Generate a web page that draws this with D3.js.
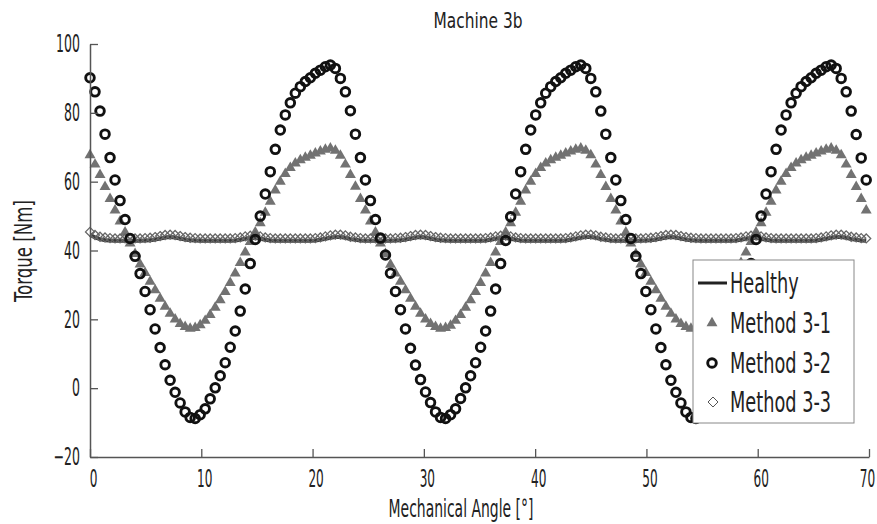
<!DOCTYPE html>
<html><head><meta charset="utf-8">
<script src="https://cdn.jsdelivr.net/npm/d3@7"></script>
<style>body{margin:0;background:#fff}svg text{font-family:'DejaVu Sans Condensed','DejaVu Sans',sans-serif;fill:#222}</style>
</head><body><svg id="c" width="877" height="524"></svg>
<script>
// ---- data ----
const angleStep = 0.45;               // sampling step in degrees (156 samples, 0 .. 69.75)
const xTicks = [0,10,20,30,40,50,60,70];
const yTicks = [-20,0,20,40,60,80,100];
const seriesNames = ["Healthy","Method 3-1","Method 3-2","Method 3-3"];

const healthy = [
44.6,43.8,43.3,43.0,42.9,42.8,42.8,42.8,42.8,42.8,42.8,42.9,43.0,43.2,43.5,43.8,43.9,43.8,43.5,43.2,
43.0,42.9,42.8,42.8,42.8,42.8,42.8,42.8,42.8,42.9,43.1,43.4,43.6,43.6,43.4,43.1,42.9,42.8,42.8,42.8,
42.8,42.8,42.8,42.8,42.8,42.9,43.1,43.4,43.7,43.9,43.9,43.7,43.3,43.1,42.9,42.8,42.8,42.8,42.8,42.8,
42.8,42.9,43.0,43.2,43.5,43.8,43.9,43.8,43.5,43.2,43.0,42.9,42.8,42.8,42.8,42.8,42.8,42.8,42.8,42.9,
43.1,43.4,43.6,43.6,43.4,43.1,42.9,42.8,42.8,42.8,42.8,42.8,42.8,42.8,42.8,42.9,43.1,43.4,43.7,43.9,
43.9,43.7,43.3,43.1,42.9,42.8,42.8,42.8,42.8,42.8,42.8,42.9,43.0,43.2,43.5,43.8,43.9,43.8,43.5,43.2,
43.0,42.9,42.8,42.8,42.8,42.8,42.8,42.8,42.8,42.9,43.1,43.4,43.6,43.6,43.4,43.1,42.9,42.8,42.8,42.8,
42.8,42.8,42.8,42.8,42.8,42.9,43.1,43.4,43.7,43.9,43.9,43.7,43.3,43.1,42.9,42.8];

const method31 = [
67.7,65.0,62.0,58.5,55.0,51.7,48.5,45.3,42.1,39.0,36.0,33.5,31.0,28.5,26.0,23.7,21.7,20.0,18.7,17.8,
17.3,17.5,18.3,19.6,21.3,23.4,25.6,28.0,30.6,33.4,36.4,39.5,42.5,45.3,48.0,51.0,54.2,57.5,60.0,62.3,
64.0,65.3,66.3,67.0,67.6,68.2,68.8,69.3,69.7,69.0,
67.6,65.0,62.0,58.6,55.0,51.7,48.5,45.3,42.1,39.0,35.9,33.4,31.0,28.5,26.0,23.7,21.7,20.0,18.7,17.8,
17.3,17.5,18.2,19.6,21.3,23.4,25.6,28.0,30.6,33.4,36.4,39.5,42.5,45.3,48.0,51.0,54.2,57.5,60.0,62.3,
64.0,65.3,66.3,67.0,67.6,68.2,68.8,69.3,69.7,69.0,
67.7,65.0,62.0,58.5,55.0,51.7,48.5,45.3,42.1,39.0,36.0,33.5,31.0,28.5,26.0,23.7,21.7,20.0,18.7,17.8,
17.3,17.5,18.3,19.6,21.3,23.4,25.6,28.0,30.6,33.4,36.4,39.5,42.5,45.3,48.0,51.0,54.2,57.5,60.0,62.3,
64.0,65.3,66.3,67.0,67.6,68.2,68.8,69.3,69.7,69.0,
67.7,65.0,62.0,58.5,55.0,51.7];

const method32 = [
90.2,86.1,80.5,73.8,67.0,60.5,54.5,49.0,43.5,38.3,33.3,28.1,22.8,17.2,11.8,6.8,2.3,-1.2,-4.3,-6.9,
-8.5,-8.8,-7.7,-6.0,-3.1,0.1,3.6,7.4,11.9,16.6,22.4,28.8,36.2,43.2,50.0,56.4,62.9,69.4,75.0,79.4,
82.9,85.7,87.6,89.1,90.2,91.5,92.4,93.4,93.9,92.9,
90.0,86.1,80.6,73.8,67.0,60.5,54.5,49.0,43.6,38.7,33.4,28.1,22.8,17.2,11.6,6.7,2.5,-1.1,-4.2,-6.9,
-8.5,-8.8,-7.7,-6.0,-3.0,0.1,3.6,7.4,11.9,16.6,22.4,28.8,36.2,42.9,49.8,56.4,62.9,69.4,75.0,79.4,
82.9,85.7,87.6,89.1,90.2,91.5,92.4,93.4,93.9,92.9,
90.0,86.1,80.5,73.8,67.0,60.5,54.5,49.0,43.5,38.3,33.3,28.1,22.8,17.2,11.8,6.8,2.3,-1.2,-4.3,-6.9,
-8.5,-8.8,-7.7,-6.0,-3.1,0.1,3.6,7.4,11.9,16.6,22.4,28.8,36.2,43.2,50.0,56.4,62.9,69.4,75.0,79.4,
82.9,85.7,87.6,89.1,90.2,91.5,92.4,93.4,93.9,92.9,
90.0,86.1,80.5,73.7,66.9,60.5];

const method33 = [
45.4,44.5,44.0,43.8,43.6,43.5,43.5,43.5,43.5,43.5,43.5,43.6,43.7,43.9,44.2,44.5,44.6,44.5,44.2,43.9,
43.7,43.6,43.5,43.5,43.5,43.5,43.5,43.5,43.5,43.6,43.8,44.1,44.3,44.3,44.1,43.8,43.6,43.5,43.5,43.5,
43.5,43.5,43.5,43.5,43.5,43.6,43.8,44.1,44.4,44.6,44.6,44.4,44.0,43.8,43.6,43.5,43.5,43.5,43.5,43.5,
43.5,43.6,43.7,43.9,44.2,44.5,44.6,44.5,44.2,43.9,43.7,43.6,43.5,43.5,43.5,43.5,43.5,43.5,43.5,43.6,
43.8,44.1,44.3,44.3,44.1,43.8,43.6,43.5,43.5,43.5,43.5,43.5,43.5,43.5,43.5,43.6,43.8,44.1,44.4,44.6,
44.6,44.4,44.0,43.8,43.6,43.5,43.5,43.5,43.5,43.5,43.5,43.6,43.7,43.9,44.2,44.5,44.6,44.5,44.2,43.9,
43.7,43.6,43.5,43.5,43.5,43.5,43.5,43.5,43.5,43.6,43.8,44.1,44.3,44.3,44.1,43.8,43.6,43.5,43.5,43.5,
43.5,43.5,43.5,43.5,43.5,43.6,43.8,44.1,44.4,44.6,44.6,44.4,44.0,43.8,43.6,43.5];

// ---- drawing ----
const svg = d3.select("#c");
const x = d3.scaleLinear().domain([0,70]).range([90,869]);
const y = d3.scaleLinear().domain([-20,100]).range([457,44]);
const angleOf = i => i * angleStep;

// condensed look: scale glyphs horizontally around the text anchor
function squeeze(sel, factor, pre){
  sel.each(function(){
    const t = d3.select(this);
    const x0 = +t.attr("x") || 0;
    t.attr("x", 0).attr("transform", `${pre||""} translate(${x0},0) scale(${factor},1)`);
  });
}
function squeezeTo(t, width, pre){
  const l = t.node().getComputedTextLength();
  squeeze(t, width / l, pre);
}

// Healthy line
svg.append("path")
  .attr("d", d3.line().x((d,i)=>x(angleOf(i))).y(d=>y(d))(healthy))
  .attr("fill","none").attr("stroke","#3a3a3a").attr("stroke-width",4);

// Method 3-1 triangles
const tri = d3.symbol().type(d3.symbolTriangle).size(52);
svg.append("g").selectAll("path").data(method31).join("path")
  .attr("d", tri)
  .attr("transform",(d,i)=>`translate(${x(angleOf(i))},${y(d)})`)
  .attr("fill","#727272");

// Method 3-3 diamonds
const diamond = r => `M0,${-r}L${r},0L0,${r}L${-r},0Z`;
svg.append("g").selectAll("path").data(method33).join("path")
  .attr("d", diamond(4.5))
  .attr("transform",(d,i)=>`translate(${x(angleOf(i))},${y(d)})`)
  .attr("fill","none").attr("stroke","#666").attr("stroke-width",1.3);

// Method 3-2 circles
svg.append("g").selectAll("circle").data(method32).join("circle")
  .attr("cx",(d,i)=>x(angleOf(i))).attr("cy",d=>y(d)).attr("r",4.3)
  .attr("fill","none").attr("stroke","#111").attr("stroke-width",2.9);

// Axes
const xAxis = svg.append("g").attr("transform","translate(0,457)")
  .call(d3.axisBottom(x).tickValues(xTicks).tickSize(-8).tickSizeOuter(0).tickPadding(13));
const yAxis = svg.append("g").attr("transform","translate(90,0)")
  .call(d3.axisLeft(y).tickValues(yTicks).tickSize(-8).tickSizeOuter(0).tickPadding(10));
[xAxis,yAxis].forEach(a=>{
  a.select(".domain").attr("stroke","#555").attr("stroke-width",1.5);
  a.selectAll(".tick line").attr("stroke","#555").attr("stroke-width",1.3);
  a.selectAll("text").style("font-size","24px").attr("fill","#222").attr("font-family",null);
});
xAxis.selectAll("text").attr("x", d => d === 70 ? -2 : 3);
squeeze(xAxis.selectAll("text"), 0.56);
squeeze(yAxis.selectAll("text"), 0.58);

// Titles
const t1 = svg.append("text").attr("x",478).attr("y",28).attr("text-anchor","middle")
  .style("font-size","22px").text("Machine 3b");
squeezeTo(t1, 89);
const t2 = svg.append("text").attr("x",461).attr("y",517).attr("text-anchor","middle")
  .style("font-size","24px").text("Mechanical Angle [°]");
squeezeTo(t2, 145);
const t3 = svg.append("text").attr("y",0).attr("text-anchor","middle")
  .style("font-size","24px").text("Torque [Nm]");
squeezeTo(t3, 102, "translate(32,251) rotate(-90)");

// Legend
const lg = svg.append("g");
lg.append("rect").attr("x",693).attr("y",260).attr("width",161).attr("height",163)
  .attr("fill","#fff").attr("stroke","#888").attr("stroke-width",1);
const rowsY = [283,323,363,402];
lg.append("line").attr("x1",698).attr("x2",727).attr("y1",rowsY[0]).attr("y2",rowsY[0])
  .attr("stroke","#222").attr("stroke-width",3);
lg.append("path").attr("d",tri).attr("transform",`translate(712,${rowsY[1]})`).attr("fill","#727272");
lg.append("circle").attr("cx",712).attr("cy",rowsY[2]).attr("r",4.3)
  .attr("fill","none").attr("stroke","#111").attr("stroke-width",2.9);
lg.append("path").attr("d",diamond(5)).attr("transform",`translate(713,${rowsY[3]})`)
  .attr("fill","none").attr("stroke","#555").attr("stroke-width",1);
const lt = lg.selectAll("text.l").data(seriesNames).join("text").attr("class","l")
  .attr("x",730).attr("y",(d,i)=>rowsY[i]).attr("dy","0.36em")
  .style("font-size","29px").text(d=>d);
squeeze(lt, 0.68);
</script></body></html>
